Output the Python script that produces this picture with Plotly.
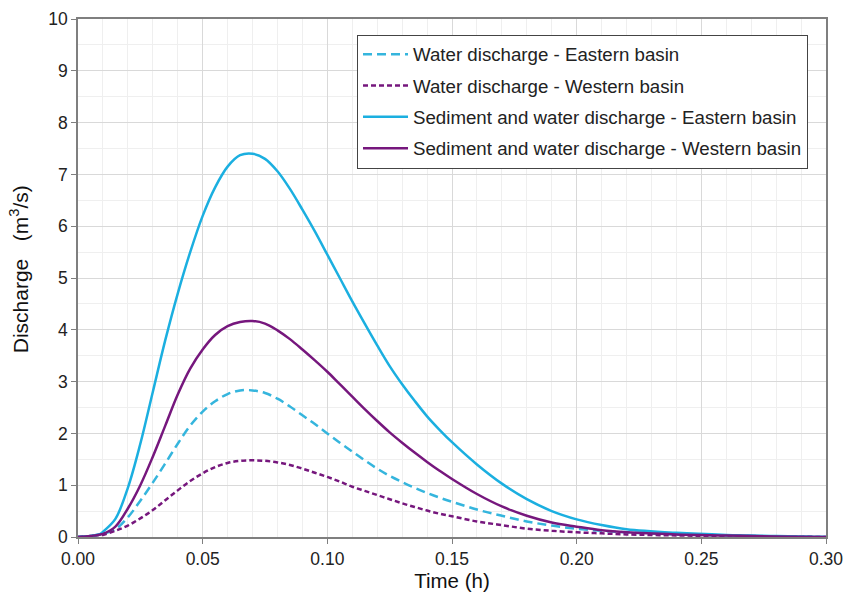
import plotly.graph_objects as go

# Time (h)
time_h = [0.0, 0.005, 0.009, 0.01, 0.015, 0.02, 0.025, 0.03, 0.035, 0.04, 0.045, 0.05,
          0.055, 0.06, 0.065, 0.07, 0.075, 0.08, 0.085, 0.09, 0.095, 0.10, 0.105,
          0.11, 0.115, 0.12, 0.125, 0.13, 0.135, 0.14, 0.145, 0.15, 0.16, 0.17,
          0.18, 0.19, 0.20, 0.21, 0.22, 0.24, 0.26, 0.28, 0.30]

# Discharge (m3/s)
water_east = [0.0, 0.02, 0.05, 0.06, 0.15, 0.38, 0.7, 1.05, 1.42, 1.8, 2.15, 2.42,
              2.62, 2.76, 2.83, 2.83, 2.78, 2.67, 2.52, 2.35, 2.18, 2.0, 1.82,
              1.65, 1.48, 1.32, 1.18, 1.06, 0.95, 0.85, 0.76, 0.68, 0.53, 0.41,
              0.3, 0.22, 0.16, 0.12, 0.09, 0.05, 0.03, 0.01, 0.0]
water_west = [0.0, 0.02, 0.04, 0.04, 0.12, 0.22, 0.36, 0.52, 0.71, 0.9, 1.08, 1.23,
              1.35, 1.43, 1.47, 1.48, 1.47, 1.44, 1.39, 1.32, 1.24, 1.16, 1.07,
              0.97, 0.89, 0.81, 0.73, 0.65, 0.58, 0.51, 0.45, 0.4, 0.3, 0.23,
              0.16, 0.12, 0.09, 0.07, 0.05, 0.03, 0.02, 0.01, 0.0]
sed_east = [0.0, 0.02, 0.06, 0.1, 0.35, 0.95, 1.8, 2.8, 3.8, 4.7, 5.5, 6.2,
            6.75, 7.15, 7.37, 7.4, 7.3, 7.06, 6.72, 6.32, 5.9, 5.45, 5.0,
            4.55, 4.12, 3.7, 3.3, 2.95, 2.63, 2.33, 2.07, 1.83, 1.4, 1.03,
            0.73, 0.5, 0.34, 0.23, 0.15, 0.08, 0.04, 0.02, 0.0]
sed_west = [0.0, 0.02, 0.05, 0.06, 0.2, 0.55, 1.0, 1.55, 2.15, 2.75, 3.25, 3.62,
            3.9, 4.07, 4.15, 4.17, 4.12, 3.99, 3.82, 3.62, 3.41, 3.19, 2.95,
            2.71, 2.47, 2.24, 2.02, 1.82, 1.63, 1.45, 1.28, 1.12, 0.83, 0.59,
            0.41, 0.28, 0.2, 0.13, 0.09, 0.05, 0.03, 0.01, 0.0]

names = ["Water discharge - Eastern basin", "Water discharge - Western basin",
         "Sediment and water discharge - Eastern basin",
         "Sediment and water discharge - Western basin"]

CYAN = "#1BAFE0"
CYAN_D = "#35B5DD"
PURPLE = "#76177D"
FONT = "Liberation Sans, Arial"

fig = go.Figure()
series = [
    (water_east, names[0], CYAN_D, "9px,5px"),
    (water_west, names[1], PURPLE, "5px,3px"),
    (sed_east, names[2], CYAN, "solid"),
    (sed_west, names[3], PURPLE, "solid"),
]
for i, (ys, nm, col, dash) in enumerate(series):
    fig.add_trace(go.Scatter(
        x=time_h, y=ys, name=nm, mode="lines", legendgroup=f"g{i}",
        line=dict(color=col, width=2.5, dash=dash, shape="spline", smoothing=1.0),
    ))

axis_common = dict(
    showline=True, linecolor="#7f7f7f", linewidth=1.5, mirror=True,
    ticks="outside", ticklen=5, tickcolor="#7f7f7f", tickwidth=1.2,
    showgrid=True, gridcolor="#d9d9d9", gridwidth=1,
    zeroline=False, automargin=False,
    tickfont=dict(family=FONT, size=17.5, color="#222"),
    title_font=dict(family=FONT, size=20.5, color="#111"),
)

fig.update_xaxes(
    range=[0, 0.30], dtick=0.05, tickformat=".2f",
    minor=dict(dtick=0.01, showgrid=True, gridcolor="#efefef", ticks=""),
    title_text="Time (h)", title_standoff=4, **axis_common,
)
fig.update_yaxes(
    range=[0, 10], dtick=1,
    minor=dict(dtick=0.5, showgrid=True, gridcolor="#efefef", ticks=""),
    title_text="&nbsp;&nbsp;&nbsp;Discharge&nbsp;&nbsp;&nbsp;(m<sup>3</sup>/s)",
    title_standoff=14, **axis_common,
)
fig.update_yaxes(title_font_size=21)

fig.update_layout(
    width=845, height=600,
    margin=dict(l=78, r=19, t=19, b=63),
    plot_bgcolor="white", paper_bgcolor="white",
    legend=dict(
        x=0.373, y=0.97, xanchor="left", yanchor="top",
        bgcolor="white", bordercolor="#444", borderwidth=1,
        font=dict(family=FONT, size=18.7, color="#222"),
        tracegroupgap=4, itemwidth=45,
    ),
)

fig.write_html("out.html")
